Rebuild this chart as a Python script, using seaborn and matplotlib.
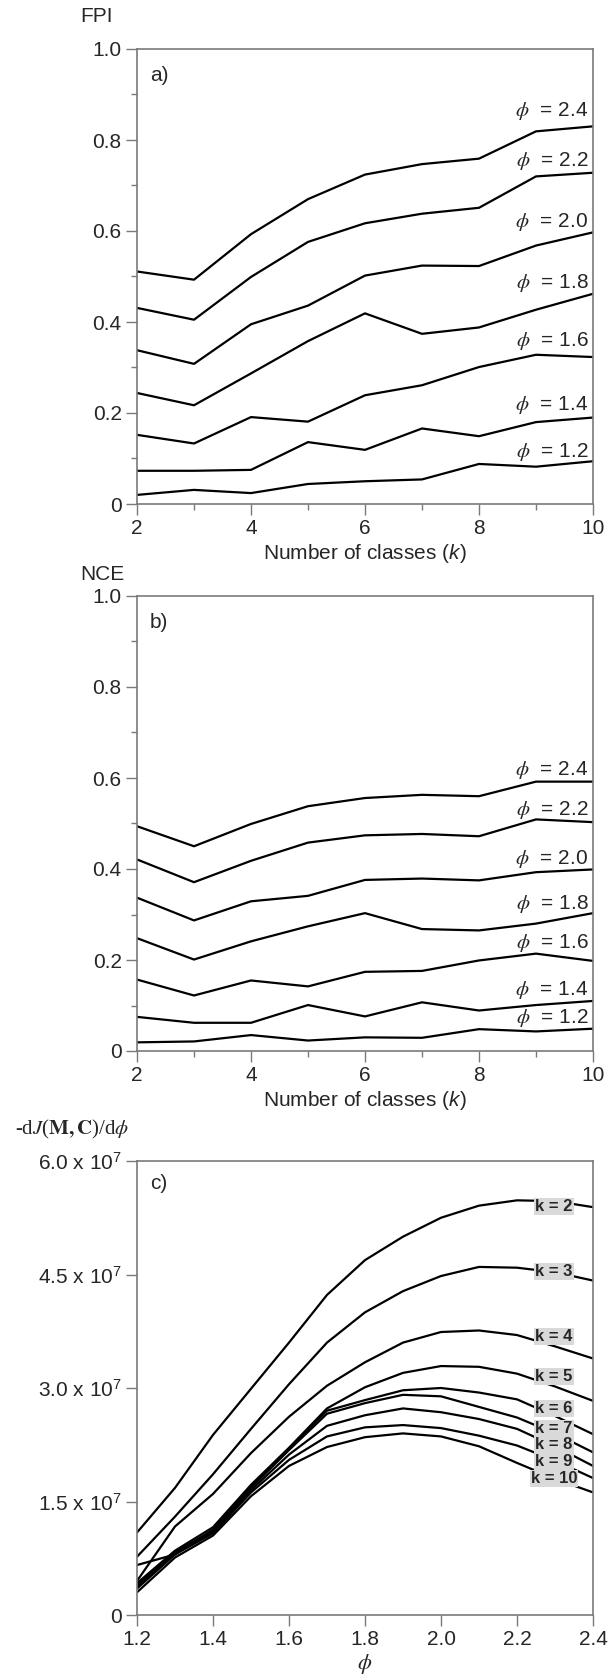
import numpy as np
import pandas as pd
import matplotlib
matplotlib.use("Agg")
import matplotlib.pyplot as plt
from matplotlib.ticker import MultipleLocator, FixedLocator, FuncFormatter
import seaborn as sns

# ---------------- data ----------------
k_classes = [2, 3, 4, 5, 6, 7, 8, 9, 10]
phi_levels = [1.2, 1.4, 1.6, 1.8, 2.0, 2.2, 2.4]

fpi_12 = [0.020, 0.031, 0.024, 0.044, 0.050, 0.054, 0.088, 0.082, 0.094]
fpi_14 = [0.073, 0.073, 0.075, 0.136, 0.119, 0.166, 0.149, 0.180, 0.190]
fpi_16 = [0.152, 0.133, 0.191, 0.181, 0.239, 0.261, 0.301, 0.328, 0.323]
fpi_18 = [0.244, 0.217, 0.287, 0.358, 0.419, 0.374, 0.388, 0.427, 0.462]
fpi_20 = [0.338, 0.308, 0.395, 0.436, 0.502, 0.524, 0.523, 0.568, 0.597]
fpi_22 = [0.431, 0.405, 0.499, 0.576, 0.617, 0.638, 0.651, 0.720, 0.728]
fpi_24 = [0.511, 0.493, 0.593, 0.670, 0.724, 0.747, 0.759, 0.819, 0.830]

nce_12 = [0.019, 0.021, 0.035, 0.023, 0.030, 0.029, 0.048, 0.043, 0.049]
nce_14 = [0.075, 0.062, 0.062, 0.101, 0.076, 0.107, 0.089, 0.101, 0.110]
nce_16 = [0.157, 0.122, 0.155, 0.142, 0.174, 0.176, 0.199, 0.214, 0.198]
nce_18 = [0.248, 0.201, 0.241, 0.274, 0.303, 0.268, 0.265, 0.280, 0.303]
nce_20 = [0.337, 0.287, 0.329, 0.341, 0.376, 0.379, 0.375, 0.393, 0.399]
nce_22 = [0.421, 0.371, 0.418, 0.458, 0.474, 0.477, 0.472, 0.509, 0.503]
nce_24 = [0.494, 0.450, 0.499, 0.538, 0.556, 0.563, 0.560, 0.592, 0.592]

# label anchor heights for phi labels (panel a and b)
fpi_label_y = [0.115, 0.218, 0.358, 0.485, 0.619, 0.753, 0.864]
nce_label_y = [0.073, 0.134, 0.238, 0.323, 0.423, 0.529, 0.617]

phi_axis = [1.2, 1.3, 1.4, 1.5, 1.6, 1.7, 1.8, 1.9, 2.0, 2.1, 2.2, 2.3, 2.4]
# -dJ/dphi in units of 1e7
dj_k2 = [1.09, 1.68, 2.38, 2.99, 3.60, 4.23, 4.69, 5.00, 5.25, 5.41, 5.48, 5.47, 5.39]
dj_k3 = [0.77, 1.30, 1.86, 2.46, 3.05, 3.60, 4.00, 4.28, 4.48, 4.60, 4.59, 4.53, 4.42]
dj_k4 = [0.45, 1.17, 1.60, 2.14, 2.62, 3.03, 3.34, 3.60, 3.74, 3.76, 3.70, 3.55, 3.39]
dj_k5 = [0.42, 0.85, 1.16, 1.72, 2.21, 2.73, 3.01, 3.20, 3.29, 3.28, 3.19, 3.02, 2.83]
dj_k6 = [0.66, 0.80, 1.13, 1.70, 2.20, 2.70, 2.84, 2.97, 3.00, 2.94, 2.85, 2.63, 2.39]
dj_k7 = [0.40, 0.83, 1.12, 1.68, 2.18, 2.66, 2.80, 2.91, 2.89, 2.75, 2.61, 2.40, 2.15]
dj_k8 = [0.38, 0.82, 1.10, 1.65, 2.12, 2.50, 2.64, 2.73, 2.68, 2.59, 2.46, 2.23, 1.97]
dj_k9 = [0.35, 0.80, 1.08, 1.62, 2.05, 2.36, 2.48, 2.51, 2.47, 2.37, 2.24, 2.04, 1.81]
dj_k10 = [0.30, 0.76, 1.05, 1.57, 1.97, 2.22, 2.35, 2.40, 2.36, 2.23, 2.01, 1.80, 1.62]
k_label_names = ["k = 2", "k = 3", "k = 4", "k = 5", "k = 6", "k = 7", "k = 8", "k = 9", "k = 10"]
k_label_y = [5.40, 4.54, 3.68, 3.15, 2.73, 2.47, 2.25, 2.03, 1.81]

# ---------------- build tables ----------------
fpi_series = [fpi_12, fpi_14, fpi_16, fpi_18, fpi_20, fpi_22, fpi_24]
nce_series = [nce_12, nce_14, nce_16, nce_18, nce_20, nce_22, nce_24]
dj_series = [dj_k2, dj_k3, dj_k4, dj_k5, dj_k6, dj_k7, dj_k8, dj_k9, dj_k10]

rows = []
for p, fv, nv in zip(phi_levels, fpi_series, nce_series):
    for k, f, n in zip(k_classes, fv, nv):
        rows.append({"k": k, "phi": p, "FPI": f, "NCE": n})
df_ab = pd.DataFrame(rows)

rows = []
for name, vals in zip(k_label_names, dj_series):
    for p, v in zip(phi_axis, vals):
        rows.append({"phi": p, "kname": name, "dJ": v * 1e7})
df_c = pd.DataFrame(rows)

# ---------------- style ----------------
sns.set_style("ticks")
plt.rcParams["font.family"] = ["Liberation Sans", "DejaVu Sans"]
plt.rcParams["mathtext.fontset"] = "custom"
plt.rcParams["mathtext.rm"] = "Liberation Sans"
plt.rcParams["mathtext.it"] = "Liberation Sans:italic"
plt.rcParams["mathtext.bf"] = "Liberation Sans:bold"

FS = 15
SPINE = "#7a7a7a"

fig = plt.figure(figsize=(6.09, 16.76), dpi=100)
L, W = 137 / 609, 456 / 609
H = 1676
ax_a = fig.add_axes([L, (H - 504) / H, W, 455 / H])
ax_b = fig.add_axes([L, (H - 1051) / H, W, 455 / H])
ax_c = fig.add_axes([L, (H - 1615) / H, W, 454 / H])


def style_axes(ax):
    for s in ax.spines.values():
        s.set_color(SPINE)
        s.set_linewidth(1.2)
    ax.tick_params(which="major", direction="out", length=8, width=1.0,
                   color=SPINE, labelsize=FS, pad=3)
    ax.tick_params(which="minor", direction="out", length=4, width=1.0, color=SPINE)
    ax.tick_params(top=False, right=False, which="both")


def dec_fmt(v, pos):
    return "0" if abs(v) < 1e-9 else f"{v:.1f}"


for ax, col, ylab_y, lab_y, letter, ylab in [
    (ax_a, "FPI", 17, fpi_label_y, "a)", "FPI"),
    (ax_b, "NCE", 574, nce_label_y, "b)", "NCE"),
]:
    sns.lineplot(data=df_ab, x="k", y=col, hue="phi", palette=["black"] * len(phi_levels),
                 legend=False, ax=ax, linewidth=1.6, estimator=None)
    ax.set_xlim(2, 10)
    ax.set_ylim(0, 1.0)
    ax.xaxis.set_major_locator(MultipleLocator(2))
    ax.xaxis.set_minor_locator(MultipleLocator(1))
    ax.yaxis.set_major_locator(MultipleLocator(0.2))
    ax.yaxis.set_minor_locator(MultipleLocator(0.1))
    ax.yaxis.set_major_formatter(FuncFormatter(dec_fmt))
    style_axes(ax)
    ax.set_ylabel("")
    ax.set_xlabel("Number of classes ($k$)", fontsize=FS, labelpad=3)
    fig.text(80 / 609, 1 - ylab_y / H, ylab, fontsize=FS, ha="left", va="center")
    ax.text(0.028, 0.942, letter, transform=ax.transAxes, fontsize=FS, ha="left", va="center")
    for p, yy in zip(phi_levels, lab_y):
        ax.text(9.92, yy, r"$\phi$  = " + f"{p:.1f}", fontsize=FS, ha="right", va="center",
                math_fontfamily="stix")

# panel c
sns.lineplot(data=df_c, x="phi", y="dJ", hue="kname", palette=["black"] * len(k_label_names),
             legend=False, ax=ax_c, linewidth=1.6, estimator=None)
ax_c.set_xlim(1.2, 2.4)
ax_c.set_ylim(0, 6.0e7)
ax_c.xaxis.set_major_locator(FixedLocator([1.2, 1.4, 1.6, 1.8, 2.0, 2.2, 2.4]))
ax_c.xaxis.set_major_formatter(FuncFormatter(lambda v, p: f"{v:.1f}"))
ax_c.yaxis.set_major_locator(FixedLocator([0, 1.5e7, 3.0e7, 4.5e7, 6.0e7]))


def sci_fmt(v, pos):
    if abs(v) < 1:
        return "0"
    return f"{v / 1e7:.1f} x 10" + r"$^{7}$"


ax_c.yaxis.set_major_formatter(FuncFormatter(sci_fmt))
style_axes(ax_c)
ax_c.set_ylabel("")
ax_c.set_xlabel(r"$\phi$", fontsize=FS + 1, labelpad=2, math_fontfamily="stix")
ax_c.text(0.028, 0.951, "c)", transform=ax_c.transAxes, fontsize=FS, ha="left", va="center")
fig.text(15 / 609, 1 - 1129 / H, r"-d$J$($\mathbf{M,C}$)/d$\phi$", fontsize=FS,
         ha="left", va="center", family="Liberation Serif", math_fontfamily="stix")
for name, yy in zip(k_label_names, k_label_y):
    ax_c.text(2.297, yy * 1e7, name, fontsize=12, fontweight="bold", ha="center", va="center",
              zorder=5, bbox=dict(boxstyle="square,pad=0.06", fc="#d9d9d9", ec="none"))

fig.savefig("out.png", dpi=100)
